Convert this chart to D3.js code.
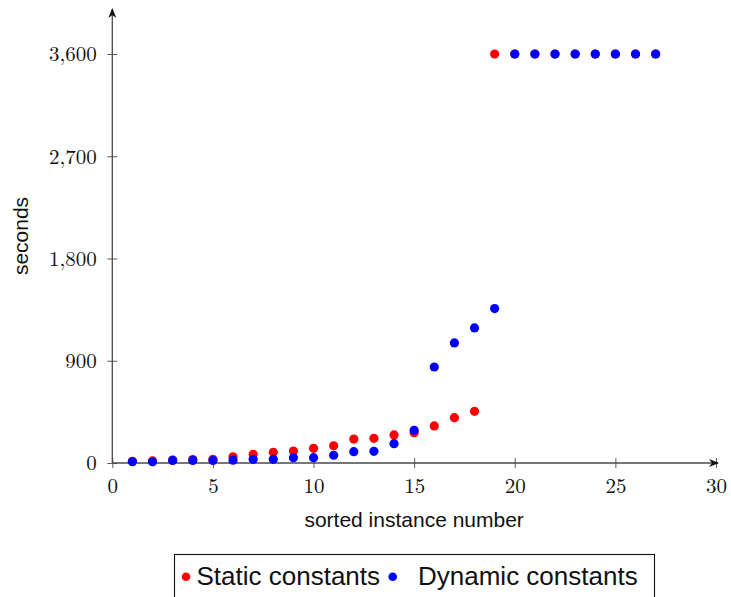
<!DOCTYPE html>
<html>
<head>
<meta charset="utf-8">
<script src="https://cdn.jsdelivr.net/npm/d3@7"></script>
<style>
  html, body { margin: 0; padding: 0; background: #fff; }
  svg { display: block; }
</style>
</head>
<body>
<svg id="chart" width="731" height="597"></svg>
<script>
// Solve times (seconds) per sorted instance; 3600 marks a timeout.
const instances = d3.range(1, 28);
const staticTimes = [15, 18, 26, 30, 33, 55, 76, 94, 105, 129, 152, 211, 217, 247, 267, 326, 399, 455,
                     3600, 3600, 3600, 3600, 3600, 3600, 3600, 3600, 3600];
const dynamicTimes = [11, 11, 23, 23, 23, 25, 32, 32, 47, 47, 68, 100, 103, 170, 288, 845, 1057, 1189, 1359,
                      3600, 3600, 3600, 3600, 3600, 3600, 3600, 3600];
const xTicks = [0, 5, 10, 15, 20, 25, 30];
const yTicks = [0, 900, 1800, 2700, 3600];
const seriesNames = ["Static constants", "Dynamic constants"];
const seriesColors = ["#ff0000", "#0000ff"];

const svg = d3.select("#chart");
const x = d3.scaleLinear().domain([0, 30]).range([112.3, 716]);
const y = d3.scaleLinear().domain([0, 3600]).range([463, 54]);

const axisColor = "#4a4a4a";
const tickFont = "'Latin Modern Roman', 'CMU Serif', 'Liberation Serif', 'DejaVu Serif', serif";
const labelFont = "'Liberation Sans', Arial, sans-serif";

// arrow heads for the axis lines
const defs = svg.append("defs");
defs.append("marker")
  .attr("id", "arrow")
  .attr("viewBox", "0 0 10 10")
  .attr("refX", 9).attr("refY", 5)
  .attr("markerWidth", 10).attr("markerHeight", 10)
  .attr("markerUnits", "userSpaceOnUse")
  .attr("orient", "auto")
  .append("path")
  .attr("d", "M0,1 L10,5 L0,9 L3,5 Z")
  .attr("fill", "#111");

// x axis
const xAxis = d3.axisBottom(x).tickValues(xTicks).tickSize(0).tickPadding(0).tickFormat(d3.format("d"));
const gx = svg.append("g").attr("transform", `translate(0,${y(0)})`).call(xAxis);
gx.select(".domain").remove();
gx.selectAll(".tick line").remove();
gx.selectAll(".tick").append("line")
  .attr("y1", -5).attr("y2", 5)
  .attr("stroke", axisColor).attr("stroke-width", 0.9);
gx.selectAll(".tick text")
  .attr("y", 30).attr("dy", null)
  .attr("fill", "#111")
  .style("font-family", tickFont).style("font-size", "21px");

// y axis
const yAxis = d3.axisLeft(y).tickValues(yTicks).tickSize(0).tickPadding(0).tickFormat(d3.format(","));
const gy = svg.append("g").attr("transform", `translate(${x(0)},0)`).call(yAxis);
gy.select(".domain").remove();
gy.selectAll(".tick line").remove();
gy.selectAll(".tick").append("line")
  .attr("x1", -5).attr("x2", 5)
  .attr("stroke", axisColor).attr("stroke-width", 0.9);
gy.selectAll(".tick text")
  .attr("x", -15.5).attr("dy", "0.33em")
  .attr("fill", "#111")
  .style("font-family", tickFont).style("font-size", "21px");

// axis lines with arrows
svg.append("line")
  .attr("x1", x(0)).attr("y1", y(0)).attr("x2", 718).attr("y2", y(0))
  .attr("stroke", axisColor).attr("stroke-width", 1.3)
  .attr("marker-end", "url(#arrow)");
svg.append("line")
  .attr("x1", x(0)).attr("y1", y(0)).attr("x2", x(0)).attr("y2", 9)
  .attr("stroke", axisColor).attr("stroke-width", 1.3)
  .attr("marker-end", "url(#arrow)");

// axis titles
svg.append("text")
  .attr("x", (x(0) + x(30)) / 2).attr("y", 527)
  .attr("text-anchor", "middle")
  .style("font-family", labelFont).style("font-size", "21px")
  .attr("fill", "#111")
  .text("sorted instance number");
svg.append("text")
  .attr("transform", `translate(28,236) rotate(-90)`)
  .attr("text-anchor", "middle")
  .style("font-family", labelFont).style("font-size", "21px")
  .attr("fill", "#111")
  .text("seconds");

// scatter marks
const series = [staticTimes, dynamicTimes];
series.forEach((vals, i) => {
  svg.append("g").selectAll("circle")
    .data(vals.map((v, j) => ({ n: instances[j], v })))
    .join("circle")
    .attr("cx", d => x(d.n))
    .attr("cy", d => y(d.v))
    .attr("r", 4.6)
    .attr("fill", seriesColors[i]);
});

// legend
const legend = svg.append("g");
legend.append("rect")
  .attr("x", 174.5).attr("y", 554.5).attr("width", 480).attr("height", 60)
  .attr("fill", "#fff").attr("stroke", "#111").attr("stroke-width", 1.1);
const legendItems = [
  { cx: 186, tx: 196.5 },
  { cx: 392.7, tx: 418 }
];
legendItems.forEach((p, i) => {
  legend.append("circle")
    .attr("cx", p.cx).attr("cy", 576.7).attr("r", 4.3)
    .attr("fill", seriesColors[i]);
  legend.append("text")
    .attr("x", p.tx).attr("y", 585)
    .style("font-family", labelFont).style("font-size", "26px")
    .attr("fill", "#111")
    .text(seriesNames[i]);
});
</script>
</body>
</html>
